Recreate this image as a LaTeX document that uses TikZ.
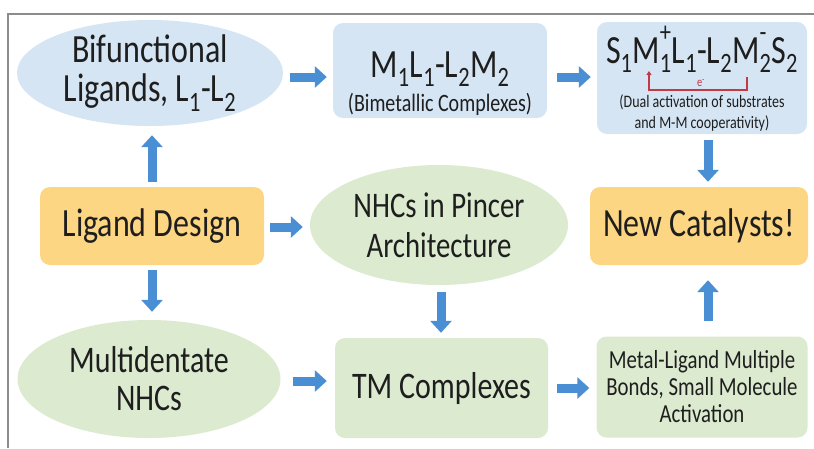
\documentclass[tikz,border=0pt]{standalone}
\usepackage{fontspec}
\setmainfont{Carlito}[FakeStretch=0.8]
\usetikzlibrary{shapes.geometric,arrows.meta,calc}
\definecolor{bfill}{HTML}{D5E5F4}
\definecolor{gfill}{HTML}{DCEACF}
\definecolor{ofill}{HTML}{FDD683}
\definecolor{arr}{HTML}{4A8ED3}
\definecolor{framec}{HTML}{8C8C8C}
\definecolor{redc}{HTML}{C23A44}
\definecolor{txt}{HTML}{1E1E1E}
\newcommand\chgsub[2]{\rlap{\raisebox{0.32em}{\textsuperscript{#1}}}\textsubscript{#2}}
\begin{document}
\begin{tikzpicture}[x=1pt,y=-1pt,
  every node/.style={text=txt, inner sep=0pt},
  blueell/.style={ellipse, fill=bfill, draw=none},
  greenell/.style={ellipse, fill=gfill, draw=none},
  bluebox/.style={rectangle, rounded corners=10pt, fill=bfill, draw=none},
  greenbox/.style={rectangle, rounded corners=10pt, fill=gfill, draw=none},
  orangebox/.style={rectangle, rounded corners=10pt, fill=ofill, draw=none},
  big/.style={font=\fontsize{40}{39}\selectfont, align=center},
  barrow/.style={draw=arr, line width=9pt, -{Triangle[width=21pt,length=12pt]}},
]
\useasboundingbox (0,0) rectangle (814,448);
% frame
\coordinate (fa) at (8,448);
\coordinate (fb) at (8,14);
\coordinate (fc) at (814,14);
\draw[framec, line width=1.3pt] (fa) -- (fb) -- (fc);

% row coordinates
\coordinate (r1) at (0,77);
\coordinate (r2) at (0,227);
\coordinate (r3) at (0,381);
\coordinate (r4) at (0,388);
\coordinate (c1) at (152,0);
\coordinate (c2) at (441,0);
\coordinate (c3) at (708,0);

% top row
\node[blueell, minimum width=266, minimum height=106] (bif) at (150,73) {};
\node[big] (biftext) at (bif) {Bifunctional\\Ligands, L\textsubscript{1}-L\textsubscript{2}};

\node[bluebox, minimum width=214, minimum height=95] (mbox) at (440,70.5) {};
\node[anchor=base, font=\fontsize{40}{44}\selectfont] (mform) at (440,77) {M\textsubscript{1}L\textsubscript{1}-L\textsubscript{2}M\textsubscript{2}};
\node[anchor=base, font=\fontsize{25}{28}\selectfont] (mnote) at (440,111) {(Bimetallic Complexes)};

\node[bluebox, minimum width=210, minimum height=112] (sbox) at (702,78) {};
\node[anchor=base, font=\fontsize{40}{44}\selectfont] (sform) at (702,63) {S\textsubscript{1}M\chgsub{+}{1}L\textsubscript{1}-L\textsubscript{2}M\chgsub{-}{2}S\textsubscript{2}};
\node[font=\fontsize{17.5}{21}\selectfont, align=center] (snote) at (702,113) {(Dual activation of substrates\\and M-M cooperativity)};
\coordinate (ea) at (649,71);
\coordinate (eb) at (649,90);
\coordinate (ec) at (747,90);
\coordinate (ed) at (747,77);
\draw[redc, line width=1.2pt, {Triangle[width=5pt,length=4pt]}-] (ea) -- (eb) -- (ec) -- (ed);
\node[text=redc, font=\fontsize{13}{14}\selectfont] (el) at (701,83) {e\textsuperscript{-}};

% middle row
\node[orangebox, big, minimum width=224, minimum height=78] (lig) at (152,226) {Ligand Design};
\node[greenell, minimum width=258, minimum height=120] (pin) at (439,225) {};
\node[font=\fontsize{36}{40}\selectfont, align=center] (pintext) at (pin) {NHCs in Pincer\\Architecture};
\node[orangebox, big, minimum width=218, minimum height=78] (cat) at (699,226) {New Catalysts!};

% bottom row
\node[greenell, minimum width=263, minimum height=118] (mul) at (149,379) {};
\node[font=\fontsize{37.5}{38}\selectfont, align=center] (multext) at (mul) {Multidentate\\NHCs};
\node[greenbox, font=\fontsize{37.5}{38}\selectfont, minimum width=213, minimum height=100] (tm) at (441.5,388) {TM Complexes};
\node[greenbox, minimum width=211, minimum height=101] (ml) at (702,387) {};
\node[font=\fontsize{26}{27}\selectfont, align=center] (mltext) at (ml) {Metal-Ligand Multiple\\Bonds, Small Molecule\\Activation};

% arrows
\draw[barrow] ($(bif.east|-r1)+(7,0)$) -- ($(mbox.west|-r1)+(-6,0)$);
\draw[barrow] ($(mbox.east|-r1)+(10,0)$) -- ($(sbox.west|-r1)+(-6,0)$);
\draw[barrow] ($(sbox.south-|c3)+(0,6)$) -- ($(cat.north-|c3)+(0,-5)$);
\draw[barrow] ($(lig.north-|c1)+(0,-5)$) -- ($(bif.south-|c1)+(0,9)$);
\draw[barrow] ($(lig.east|-r2)+(6,0)$) -- ($(pin.west|-r2)+(-7,0)$);
\draw[barrow] ($(pin.south-|c2)+(0,7)$) -- ($(tm.north-|c2)+(0,-5)$);
\draw[barrow] ($(lig.south-|c1)+(0,5)$) -- ($(mul.north-|c1)+(0,-8)$);
\draw[barrow] ($(mul.east|-r3)+(12,0)$) -- ($(tm.west|-r3)+(-8,0)$);
\draw[barrow] ($(tm.east|-r4)+(9,0)$) -- ($(ml.west|-r4)+(-7,0)$);
\draw[barrow] ($(ml.north-|c3)+(0,-15)$) -- ($(cat.south-|c3)+(0,15)$);
\end{tikzpicture}
\end{document}
